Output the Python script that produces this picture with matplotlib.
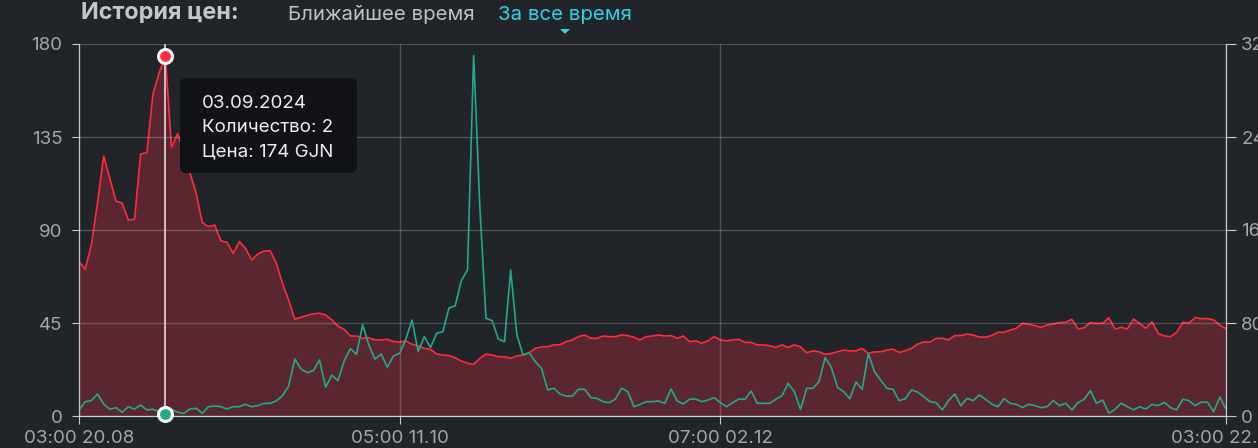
import matplotlib
matplotlib.use("Agg")
import matplotlib.pyplot as plt
from matplotlib.patches import FancyBboxPatch, Polygon
from matplotlib.transforms import IdentityTransform

plt.rcParams['font.family'] = ['Inter', 'DejaVu Sans']

# daily average price (left axis), 20.08 .. 22.02
price = [
    74.7, 71, 82.7, 103, 125.8, 115, 104, 103, 94.8, 95.2,
    126.8, 127.4, 156, 166, 174, 130, 136.6, 128, 117.6, 107.7,
    93.5, 91.6, 92.4, 84.8, 84, 78.7, 84.3, 81.1, 75.5, 78.4,
    79.8, 80, 73.9, 64.2, 56.1, 46.8, 47.8, 48.7, 49.4, 49.7,
    48.9, 46.5, 43.5, 41.9, 38.7, 38.7, 37.6, 37.9, 36.8, 36.8,
    37.1, 36, 35.8, 36.3, 34.7, 34.1, 32.7, 32.3, 30, 29.5,
    29.2, 28.2, 26.6, 25.5, 25, 27.9, 30, 29.5, 28.7, 28.7,
    27.9, 29, 29.5, 30.6, 32.7, 33.5, 33.5, 34.4, 34.5, 36,
    36.8, 38.4, 39.2, 37.6, 37.6, 38.7, 38.4, 38.4, 39.2, 38.9,
    38.1, 36.8, 38.4, 38.7, 39.2, 38.7, 38.9, 37.6, 38.7, 36,
    36.4, 35.2, 36.4, 38.4, 36.8, 36.4, 36.8, 37.1, 35.6, 35.6,
    34.4, 34.4, 34, 33.2, 34.4, 33.2, 34.4, 33.5, 30.6, 31.5,
    31.1, 29.8, 30.3, 31.1, 31.9, 31.5, 31.5, 32.7, 30.3, 31,
    31.1, 31.9, 32.3, 30.8, 31.6, 32.7, 34.8, 35.8, 35.8, 37.6,
    37.6, 36.8, 38.9, 38.9, 39.7, 39.2, 38.2, 38.2, 38.9, 40.5,
    40.5, 41.6, 42.4, 44.8, 44.4, 43.7, 42.9, 44, 44.5, 45.2,
    45.3, 46.8, 42.1, 42.7, 45.2, 44.8, 44.8, 47.6, 42.1, 42.9,
    42.1, 46.9, 44.8, 42.4, 45.6, 40, 38.7, 38.4, 40.5, 45.3,
    45, 47.6, 47.1, 47.1, 46.5, 43.9, 42.2,
]

# daily quantity (right axis)
qty = [
    5.2, 12.3, 13.2, 18.9, 10.3, 5.7, 7.2, 3.2, 8, 6,
    9.5, 5.2, 5.7, 3.7, 2, 5.7, 3.2, 2.3, 6, 6.6,
    2.3, 8, 8.6, 8, 6, 8, 8, 10, 8, 8.9,
    10.9, 10.9, 12.9, 17.5, 25.8, 49, 40.4, 37.3, 39, 48.2,
    24.7, 35, 30.4, 47.5, 58, 53, 78.5, 61, 49, 53.3,
    41.9, 51.8, 53.9, 66, 82.5, 55.5, 68.2, 59, 71.1, 72.5,
    93, 94.8, 116.5, 125.6, 310, 180, 84, 82, 66.2, 63.9,
    125.6, 70, 52.5, 54.5, 46.7, 41, 22.4, 23.9, 18.9, 17.1,
    17.2, 23, 23, 15.8, 15.1, 12.3, 11.5, 14.6, 24, 20.9,
    8, 10, 12.3, 12.3, 12.9, 10.9, 23.2, 12.9, 10.3, 14.4,
    14.6, 12.3, 13.8, 15.8, 11.5, 8, 11.5, 14.6, 14.4, 21.5,
    10.9, 10.9, 10.9, 14.4, 17.5, 28.1, 20.9, 5.5, 23.8, 23.8,
    29.5, 50.2, 41.9, 24.5, 20.9, 14.9, 29.2, 22.9, 53.9, 38.1,
    31, 23.8, 22.9, 13.2, 14.9, 22.4, 20.6, 16.6, 12.3, 11.5,
    5.2, 13.2, 18.9, 8.9, 15.2, 13.2, 18.1, 14.4, 10.3, 8,
    14.9, 10.9, 10, 7.2, 10, 8.9, 7.2, 8, 13.2, 8.9,
    10.9, 5.2, 11.5, 14.4, 21.8, 10.9, 13.8, 2.3, 5.7, 10.9,
    8, 5.2, 8, 6, 10, 8.9, 11.8, 7.2, 5.2, 14.4,
    13.2, 8.9, 12, 11.8, 3.7, 16.3, 6,
]

x_ticks = [0, 52, 104, 186]
x_labels = ["03:00 20.08", "05:00 11.10", "07:00 02.12", "03:00 22.02"]
price_ticks = [0, 45, 90, 135, 180]
qty_ticks = [0, 80, 160, 240, 320]

hover_day = 14
hover_lines = ["03.09.2024", "Количество: 2", "Цена: 174 GJN"]

BG = '#212429'
RED = '#ff2b3b'
FILL = '#5a2730'
GREEN = '#22a98b'
TICK = '#a3a6ab'
SPINE = '#c9c9cc'

days = list(range(len(price)))

fig = plt.figure(figsize=(12.58, 4.48), dpi=100, facecolor=BG)
ax = fig.add_axes([79 / 1258, 32 / 448, 1147 / 1258, 372 / 448])
ax.set_facecolor(BG)
ax2 = ax.twinx()

ax.fill_between(days, price, 0, color=FILL, lw=0, zorder=1)
ax.plot(days, price, color=RED, lw=1.2, zorder=2)
ax.set_xlim(0, len(price) - 1)
ax.set_ylim(0, 180)
ax.set_xticks(x_ticks, x_labels)
ax.set_yticks(price_ticks)
ax.grid(True, color='white', alpha=0.2, lw=1, zorder=3)
ax.set_axisbelow(False)

ax2.plot(days, qty, color=GREEN, lw=1.2)
ax2.set_ylim(0, 320)
ax2.set_yticks(qty_ticks)

for a in (ax, ax2):
    a.spines['top'].set_visible(False)
    a.spines['left'].set_color(SPINE)
    a.spines['right'].set_color(SPINE)
    a.spines['bottom'].set_color('#dccacd')
ax.tick_params(axis='y', colors=SPINE, labelcolor=TICK, labelsize=13.5, length=5, pad=7)
ax.tick_params(axis='x', colors=SPINE, labelcolor=TICK, labelsize=13.5, length=6, pad=4)
ax2.tick_params(axis='y', colors=SPINE, labelcolor=TICK, labelsize=13.5, length=7, pad=4)

# hover crosshair and markers
ax.axvline(hover_day, color='#e8d6da', lw=1.2, zorder=4)
ax.plot([hover_day], [price[hover_day]], 'o', ms=10, mfc=RED, mec='white', mew=2.2,
        zorder=6, clip_on=False)
ax2.plot([hover_day], [qty[hover_day]], 'o', ms=10, mfc=GREEN, mec='white', mew=2.2,
         zorder=6, clip_on=False)

# tooltip
H = 448
box = FancyBboxPatch((180, H - 173), 177, 95, boxstyle="round,pad=0,rounding_size=6",
                     transform=IdentityTransform(), facecolor='#111316', edgecolor='none',
                     zorder=10)
fig.patches.append(box)
for i, line in enumerate(hover_lines):
    fig.text(202, H - 107.5 - 24.4 * i, line, transform=IdentityTransform(),
             color='#eceef0', fontsize=13.5, va='baseline', ha='left', zorder=11)

# header
fig.text(81, H - 18.5, "История цен:", transform=IdentityTransform(), color='#c4c6c9',
         fontsize=16.8, fontweight='bold', va='baseline', ha='left')
fig.text(288, H - 19.5, "Ближайшее время", transform=IdentityTransform(), color='#bfc1c4',
         fontsize=14.7, va='baseline', ha='left')
fig.text(498, H - 19.5, "За все время", transform=IdentityTransform(), color='#30d2e3',
         fontsize=14.7, va='baseline', ha='left')
tri = Polygon([(560, H - 29), (570, H - 29), (565, H - 34)], closed=True,
              transform=IdentityTransform(), facecolor='#30d2e3', edgecolor='none')
fig.patches.append(tri)

fig.savefig("out.png", dpi=100, facecolor=BG)
